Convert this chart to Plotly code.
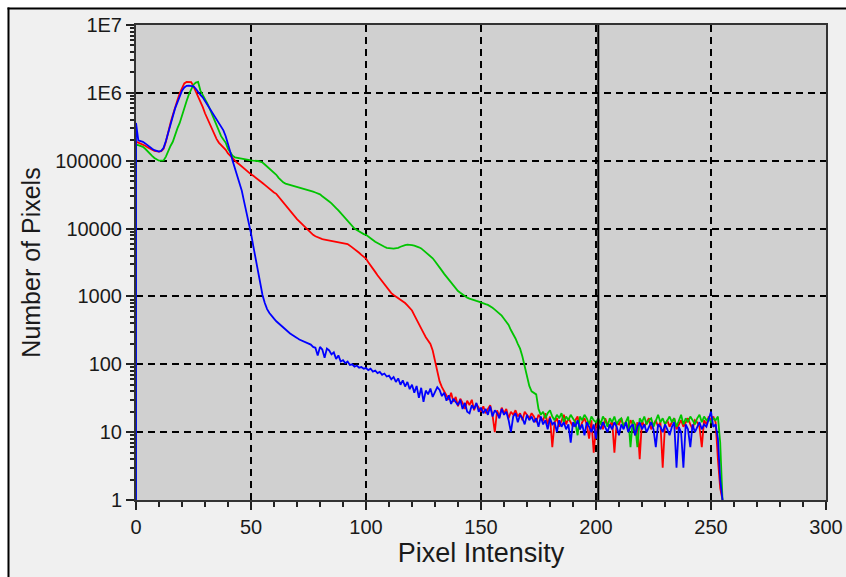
import plotly.graph_objects as go

# Histogram of an RGB image: pixel count per intensity level (0-255)
intensity = list(range(256))

red_counts = [
    190000, 185000, 180000, 175000, 166000, 158000, 150000, 145000, 140000, 137000,
    136000, 138000, 150000, 190000, 270000, 360000, 470000, 620000, 780000, 980000,
    1180000, 1380000, 1450000, 1450000, 1440000, 1250000, 1050000, 900000, 780000, 620000,
    500000, 420000, 340000, 280000, 240000, 210000, 185000, 172000, 160000, 145000,
    128000, 118000, 108000, 100000, 93000, 88000, 82000, 77000, 72000, 67000,
    63000, 60000, 56000, 53000, 50000, 47000, 44000, 41000, 38000, 35500,
    34000, 32500, 29500, 26500, 24000, 22000, 20000, 18000, 16500, 15000,
    13800, 12800, 11800, 10800, 10000, 9300, 8600, 8100, 7700, 7400,
    7100, 7000, 6900, 6800, 6700, 6700, 6600, 6500, 6400, 6300,
    6200, 6100, 5900, 5600, 5300, 5000, 4700, 4400, 4100, 3800,
    3600, 3200, 2900, 2600, 2300, 2050, 1850, 1650, 1480, 1350,
    1220, 1120, 1050, 1000, 950, 900, 850, 800, 740, 680,
    620, 530, 450, 400, 340, 290, 250, 220, 200, 160,
    110, 78, 56, 46, 40, 36, 30, 38, 28, 33,
    24, 31, 27, 22, 29, 25, 30, 21, 26, 23,
    20, 24, 19, 22, 25, 18, 10, 21, 17, 23,
    19, 22, 16, 20, 18, 21, 17, 19, 15, 20,
    18, 16, 19, 17, 14, 18, 16, 15, 19, 13,
    17, 6, 14, 16, 12, 15, 18, 13, 16, 14,
    12, 15, 17, 11, 14, 16, 13, 8, 15, 5,
    12, 15, 14, 11, 16, 13, 12, 15, 5, 14,
    13, 16, 12, 14, 11, 15, 13, 9, 14, 4,
    15, 12, 14, 16, 11, 13, 15, 12, 14, 3,
    13, 15, 12, 14, 16, 11, 13, 15, 12, 14,
    16, 13, 11, 15, 14, 12, 6, 15, 13, 17,
    15, 17, 14, 4, 1.5, 1,
]

green_counts = [
    172000, 170000, 166000, 160000, 150000, 140000, 128000, 118000, 110000, 104000,
    100000, 100000, 101000, 115000, 140000, 165000, 190000, 245000, 300000, 360000,
    470000, 600000, 760000, 950000, 1150000, 1320000, 1420000, 1450000, 1080000, 950000,
    820000, 700000, 590000, 490000, 400000, 320000, 265000, 230000, 205000, 185000,
    150000, 130000, 118000, 112000, 110000, 110000, 108000, 106000, 104000, 102000,
    101000, 100000, 100000, 99000, 97000, 94000, 88000, 82000, 77000, 73000,
    68000, 62000, 56000, 51000, 48000, 46000, 45000, 44000, 43000, 42000,
    41000, 40000, 39500, 39000, 38000, 37000, 36000, 35000, 34000, 33000,
    32000, 30000, 28000, 26000, 25000, 23500, 22000, 20000, 18500, 17000,
    15500, 14000, 12800, 11700, 10800, 10000, 9500, 9000, 8600, 8300,
    8100, 7700, 7200, 6800, 6400, 6100, 5800, 5600, 5400, 5200,
    5100, 5100, 5050, 5100, 5200, 5400, 5600, 5700, 5800, 5800,
    5700, 5600, 5500, 5300, 5100, 4800, 4500, 4200, 3900, 3650,
    3300, 3000, 2700, 2400, 2150, 1950, 1750, 1600, 1450, 1320,
    1200, 1130, 1060, 1000, 960, 930, 900, 880, 860, 840,
    810, 790, 770, 750, 720, 680, 640, 600, 560, 520,
    470, 420, 380, 320, 280, 240, 200, 170, 130, 92,
    70, 48, 40, 38, 36, 22, 18, 20, 16, 19,
    21, 17, 15, 18, 16, 19, 14, 17, 15, 18,
    16, 14, 9, 17, 15, 18, 16, 13, 17, 15,
    14, 16, 13, 17, 15, 12, 16, 14, 17, 13,
    15, 16, 12, 14, 17, 6, 15, 13, 6, 16,
    14, 17, 13, 15, 16, 12, 15, 18, 14, 16,
    13, 15, 17, 14, 16, 12, 15, 18, 13, 16,
    14, 17, 15, 13, 16, 18, 14, 17, 15, 16,
    14, 16, 15, 17, 7, 1,
]

blue_counts = [
    360000, 200000, 195000, 190000, 180000, 168000, 158000, 150000, 143000, 138000,
    136000, 140000, 155000, 195000, 265000, 350000, 450000, 590000, 740000, 920000,
    1080000, 1200000, 1270000, 1280000, 1280000, 1250000, 1150000, 1020000, 930000, 860000,
    760000, 660000, 580000, 510000, 450000, 400000, 350000, 315000, 280000, 230000,
    180000, 135000, 100000, 78000, 62000, 50000, 36000, 25000, 18000, 12500,
    8500, 5500, 3600, 2500, 1500, 1050, 800, 650, 570, 510,
    470, 430, 400, 370, 350, 320, 300, 285, 270, 260,
    245, 232, 225, 218, 212, 205, 195, 180, 175, 135,
    180, 165, 125, 170, 160, 140, 150, 120, 135, 110,
    115, 104, 110, 98, 100, 92, 96, 89, 91, 86,
    88, 82, 86, 78, 81, 74, 77, 70, 73, 66,
    68, 60, 65, 55, 62, 50, 58, 47, 55, 43,
    50, 38, 48, 32, 45, 28, 41, 36, 44, 33,
    40, 46, 42, 34, 38, 29, 35, 26, 31, 28,
    25, 30, 22, 27, 20, 19, 25, 22, 27, 20,
    23, 19, 22, 18, 24, 17, 21, 19, 16, 22,
    18, 20, 15, 10, 17, 19, 14, 18, 16, 13,
    18, 15, 17, 14, 16, 12, 17, 13, 15, 11,
    16, 13, 14, 10, 15, 12, 14, 11, 13, 7,
    14, 12, 15, 11, 13, 9, 14, 12, 10, 13,
    8, 13, 11, 14, 12, 10, 13, 11, 14, 12,
    9, 13, 11, 14, 10, 12, 13, 9, 12, 14,
    11, 13, 10, 12, 14, 11, 6, 13, 12, 10,
    13, 11, 9, 12, 14, 3, 12, 10, 3, 13,
    11, 6, 13, 10, 12, 14, 11, 13, 12, 15,
    20, 12, 13, 8, 2, 1,
]

# Each trace rises from the axis floor at intensity 0
floor_count = 1

x_tick_vals = [0, 50, 100, 150, 200, 250, 300]
y_tick_vals = [1, 10, 100, 1000, 10000, 100000, 1000000, 10000000]
y_tick_text = ["1", "10", "100", "1000", "10000", "100000", "1E6", "1E7"]

cursor_intensity = 201

FONT = "Liberation Sans, Arial, sans-serif"
W, H = 846, 577
ML, MR, MT, MB = 136, 20, 25, 77
PW, PH = W - ML - MR, H - MT - MB


def px_x(px):
    return (px - ML) / PW


def px_y(py):
    return (H - MB - py) / PH


fig = go.Figure()
for name, counts, color in [
    ("Red", red_counts, "#ff0000"),
    ("Green", green_counts, "#00c400"),
    ("Blue", blue_counts, "#0000ff"),
]:
    fig.add_trace(go.Scatter(
        x=[0] + intensity,
        y=[floor_count] + counts,
        mode="lines",
        name=name,
        line=dict(color=color, width=1.8),
        hoverinfo="x+y+name",
    ))

grid_style = dict(showgrid=True, gridcolor="#000000", gridwidth=2, griddash="7px,5px")
axis_line = dict(showline=True, linecolor="#333333", linewidth=2, mirror=True,
                 zeroline=False, automargin=False)

fig.update_layout(
    width=W,
    height=H,
    autosize=False,
    margin=dict(l=ML, r=MR, t=MT, b=MB, pad=0, autoexpand=False),
    paper_bgcolor="#f0f0f0",
    plot_bgcolor="#d0d0d0",
    showlegend=False,
    font=dict(family=FONT, color="#1a1a1a"),
    xaxis=dict(
        range=[0, 300],
        tickvals=x_tick_vals,
        ticks="outside",
        ticklen=8,
        tickwidth=2,
        tickcolor="#222222",
        tickfont=dict(size=20, family=FONT, color="#1a1a1a"),
        minor=dict(dtick=10, tick0=0, ticks="outside", ticklen=5, tickwidth=1.5,
                   tickcolor="#222222", showgrid=False),
        title=dict(text="Pixel Intensity", font=dict(size=27, family=FONT, color="#1a1a1a"),
                   standoff=4),
        **grid_style,
        **axis_line,
    ),
    yaxis=dict(
        type="log",
        range=[0, 7],
        tickmode="array",
        tickvals=y_tick_vals,
        ticktext=y_tick_text,
        ticks="outside",
        ticklen=8,
        tickwidth=2,
        tickcolor="#222222",
        tickfont=dict(size=20, family=FONT, color="#1a1a1a"),
        minor=dict(dtick="D1", ticks="outside", ticklen=4, tickwidth=1.5,
                   tickcolor="#222222", showgrid=False),
        title=dict(text="Number of Pixels", font=dict(size=25, family=FONT, color="#1a1a1a"),
                   standoff=8),
        **grid_style,
        **axis_line,
    ),
)

# Cursor marker at the selected intensity
fig.add_shape(type="line", xref="x", yref="paper", x0=cursor_intensity, x1=cursor_intensity,
              y0=0, y1=1, line=dict(color="#000000", width=2), layer="above")

# Window frame: white strip with a black edge along the top and left
left, right = px_x(-2), px_x(W + 2)
top, bottom = px_y(-2), px_y(H + 2)
fig.add_shape(type="rect", xref="paper", yref="paper", x0=left, x1=right,
              y0=px_y(7.5), y1=top, fillcolor="#ffffff", line=dict(width=0), layer="above")
fig.add_shape(type="rect", xref="paper", yref="paper", x0=left, x1=px_x(7.5),
              y0=bottom, y1=top, fillcolor="#ffffff", line=dict(width=0), layer="above")
fig.add_shape(type="line", xref="paper", yref="paper", x0=px_x(7.5), x1=right,
              y0=px_y(8.5), y1=px_y(8.5), line=dict(color="#000000", width=2), layer="above")
fig.add_shape(type="line", xref="paper", yref="paper", x0=px_x(8.5), x1=px_x(8.5),
              y0=bottom, y1=px_y(7.5), line=dict(color="#000000", width=2), layer="above")

fig.write_html("out.html")
